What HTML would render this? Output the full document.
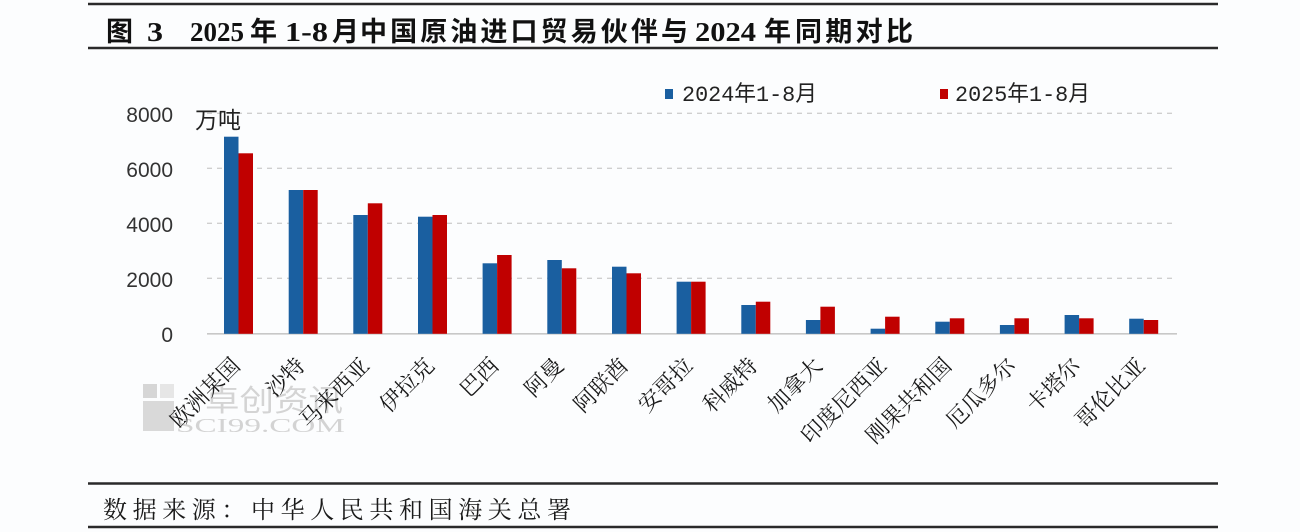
<!DOCTYPE html>
<html><head><meta charset="utf-8"><style>
html,body{margin:0;padding:0;background:#fcfdfe;}
svg{display:block;}
</style></head><body>
<svg width="1300" height="532" viewBox="0 0 1300 532" xmlns="http://www.w3.org/2000/svg">
<rect width="1300" height="532" fill="#fcfdfe"/>
<!-- title rules -->
<line x1="88" y1="4" x2="1218" y2="4" stroke="#2a2a2a" stroke-width="2.5"/>
<line x1="88" y1="48" x2="1218" y2="48" stroke="#2a2a2a" stroke-width="2.5"/>
<g font-family="'Liberation Sans','Noto Sans CJK SC',sans-serif" font-weight="700" font-size="27" fill="#111">
<text x="106" y="41">图</text>
<text x="147" y="41" font-family="'Liberation Serif',serif" textLength="16" lengthAdjust="spacingAndGlyphs">3</text>
<text x="190" y="41" font-family="'Liberation Serif',serif" textLength="54" lengthAdjust="spacingAndGlyphs">2025</text>
<text x="250" y="41">年</text>
<text x="285" y="41" font-family="'Liberation Serif',serif" textLength="43" lengthAdjust="spacingAndGlyphs">1-8</text>
<text x="332" y="41">月</text>
<text x="360" y="41" textLength="328" lengthAdjust="spacing">中国原油进口贸易伙伴与</text>
<text x="695" y="41" font-family="'Liberation Serif',serif" textLength="61" lengthAdjust="spacingAndGlyphs">2024</text>
<text x="764" y="41">年</text>
<text x="795" y="41" textLength="118" lengthAdjust="spacing">同期对比</text>
</g>

<!-- gridlines -->
<g stroke="#cfcfcf" stroke-width="1.3" stroke-dasharray="5,5">
<line x1="207" y1="113.3" x2="1177" y2="113.3"/>
<line x1="207" y1="168.3" x2="1177" y2="168.3"/>
<line x1="207" y1="223.3" x2="1177" y2="223.3"/>
<line x1="207" y1="278.3" x2="1177" y2="278.3"/>
</g>
<line x1="207" y1="333.8" x2="1177" y2="333.8" stroke="#c8c8c8" stroke-width="1.6"/>

<!-- y ticks -->
<g font-family="'Liberation Sans',sans-serif" font-size="21" fill="#333" text-anchor="end">
<text x="173" y="122">8000</text>
<text x="173" y="177">6000</text>
<text x="173" y="232">4000</text>
<text x="173" y="287">2000</text>
<text x="173" y="342">0</text>
</g>
<text x="195" y="128" font-family="'Liberation Sans','Noto Sans CJK SC',sans-serif" font-size="23" fill="#222">万吨</text>

<!-- legend -->
<rect x="665" y="89" width="8" height="10" fill="#1a5fa0"/>
<text x="682" y="101" font-family="'Liberation Mono','Noto Sans CJK SC',monospace" font-size="22" fill="#222" textLength="135" lengthAdjust="spacingAndGlyphs">2024年1-8月</text>
<rect x="940" y="89" width="8" height="10" fill="#c00000"/>
<text x="955" y="101" font-family="'Liberation Mono','Noto Sans CJK SC',monospace" font-size="22" fill="#222" textLength="135" lengthAdjust="spacingAndGlyphs">2025年1-8月</text>

<!-- bars -->
<g fill="#1a5fa0">
<rect x="224.0" y="136.7" width="14.5" height="197.1"/>
<rect x="288.7" y="190.0" width="14.5" height="143.8"/>
<rect x="353.3" y="215.0" width="14.5" height="118.8"/>
<rect x="418.0" y="216.7" width="14.5" height="117.1"/>
<rect x="482.6" y="263.3" width="14.5" height="70.5"/>
<rect x="547.3" y="260.0" width="14.5" height="73.8"/>
<rect x="612.0" y="266.7" width="14.5" height="67.1"/>
<rect x="676.6" y="281.7" width="14.5" height="52.1"/>
<rect x="741.3" y="305.0" width="14.5" height="28.8"/>
<rect x="805.9" y="320.0" width="14.5" height="13.8"/>
<rect x="870.6" y="328.7" width="14.5" height="5.1"/>
<rect x="935.3" y="321.7" width="14.5" height="12.1"/>
<rect x="999.9" y="325.0" width="14.5" height="8.8"/>
<rect x="1064.6" y="315.0" width="14.5" height="18.8"/>
<rect x="1129.2" y="318.7" width="14.5" height="15.1"/>
</g>
<g fill="#c00000">
<rect x="238.5" y="153.3" width="14.5" height="180.5"/>
<rect x="303.2" y="190.0" width="14.5" height="143.8"/>
<rect x="367.8" y="203.3" width="14.5" height="130.5"/>
<rect x="432.5" y="215.0" width="14.5" height="118.8"/>
<rect x="497.1" y="255.0" width="14.5" height="78.8"/>
<rect x="561.8" y="268.3" width="14.5" height="65.5"/>
<rect x="626.5" y="273.3" width="14.5" height="60.5"/>
<rect x="691.1" y="281.7" width="14.5" height="52.1"/>
<rect x="755.8" y="301.7" width="14.5" height="32.1"/>
<rect x="820.4" y="306.7" width="14.5" height="27.1"/>
<rect x="885.1" y="316.7" width="14.5" height="17.1"/>
<rect x="949.8" y="318.3" width="14.5" height="15.5"/>
<rect x="1014.4" y="318.3" width="14.5" height="15.5"/>
<rect x="1079.1" y="318.3" width="14.5" height="15.5"/>
<rect x="1143.7" y="320.0" width="14.5" height="13.8"/>
</g>

<!-- watermark -->
<g opacity="0.9">
<rect x="143" y="384" width="14" height="14" fill="#d2d2d2"/>
<rect x="160" y="384" width="14" height="14" fill="#e4e4e4"/>
<rect x="143" y="401" width="31" height="30" fill="#d6d6d6"/>
<text x="205" y="411" font-family="'Liberation Sans','Noto Sans CJK SC',sans-serif" font-size="30" fill="#d0d0d0" textLength="138" lengthAdjust="spacingAndGlyphs">卓创资讯</text>
<text x="176" y="432" font-family="'Liberation Serif',serif" font-size="20" fill="#cfcfcf" textLength="169" lengthAdjust="spacingAndGlyphs">SCI99.COM</text>
</g>

<!-- x labels -->
<g font-family="'Liberation Serif','Noto Serif CJK SC',serif" font-size="22" fill="#1a1a1a" text-anchor="end">
<text transform="translate(241.5,367) rotate(-45)">欧洲某国</text>
<text transform="translate(306.2,367) rotate(-45)">沙特</text>
<text transform="translate(370.8,367) rotate(-45)">马来西亚</text>
<text transform="translate(435.5,367) rotate(-45)">伊拉克</text>
<text transform="translate(500.1,367) rotate(-45)">巴西</text>
<text transform="translate(564.8,367) rotate(-45)">阿曼</text>
<text transform="translate(629.5,367) rotate(-45)">阿联酋</text>
<text transform="translate(694.1,367) rotate(-45)">安哥拉</text>
<text transform="translate(758.8,367) rotate(-45)">科威特</text>
<text transform="translate(823.4,367) rotate(-45)">加拿大</text>
<text transform="translate(888.1,367) rotate(-45)">印度尼西亚</text>
<text transform="translate(952.8,367) rotate(-45)">刚果共和国</text>
<text transform="translate(1017.4,367) rotate(-45)">厄瓜多尔</text>
<text transform="translate(1082.1,367) rotate(-45)">卡塔尔</text>
<text transform="translate(1146.7,367) rotate(-45)">哥伦比亚</text>
</g>

<!-- source -->
<line x1="88" y1="483.5" x2="1218" y2="483.5" stroke="#2a2a2a" stroke-width="2.5"/>
<line x1="88" y1="527" x2="1218" y2="527" stroke="#2a2a2a" stroke-width="2.5"/>
<text x="103" y="518" font-family="'Liberation Serif','Noto Serif CJK SC',serif" font-size="24" fill="#1a1a1a" textLength="468" lengthAdjust="spacing">数据来源：中华人民共和国海关总署</text>
</svg>
</body></html>
